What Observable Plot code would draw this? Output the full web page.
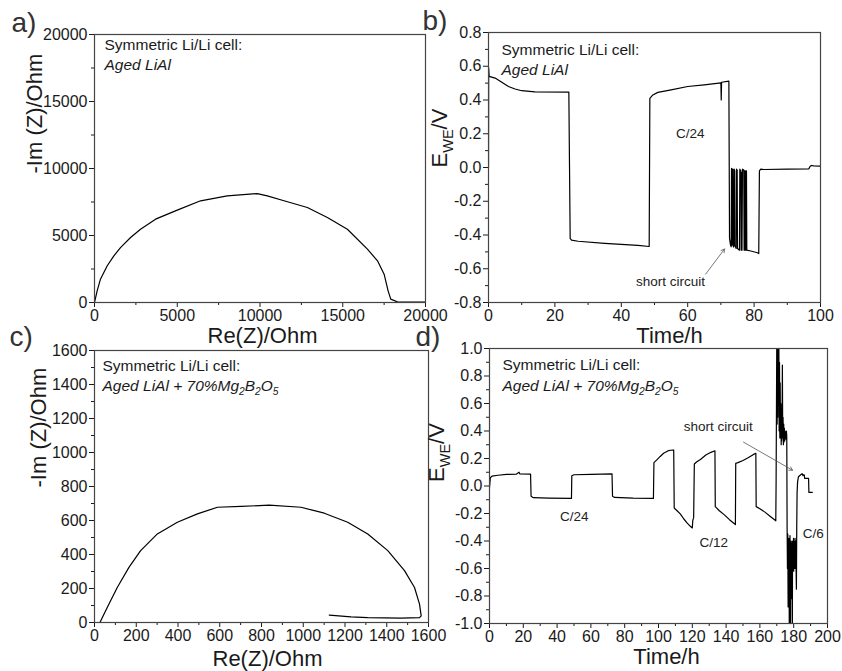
<!DOCTYPE html>
<html><head><meta charset="utf-8">
<script src="https://cdn.jsdelivr.net/npm/d3@7"></script>
<script src="https://cdn.jsdelivr.net/npm/@observablehq/plot@0.6"></script>
<style>
body{margin:0;background:#fff}
#wrap{position:relative;width:842px;height:671px;font-family:"Liberation Sans",Arial,sans-serif}
#wrap svg{position:absolute;left:0;top:0}
</style></head><body><div id="wrap"></div>
<script>
// ---------- data ----------
// a) Nyquist, aged LiAl  [Re(Z), -Im(Z)]
const nyquistA = [[0,0],[160,870],[360,1740],[770,2740],[1170,3480],[1570,4100],[2180,4850],[2780,5470],[3690,6220],[5000,6890],[6410,7590],[8020,7960],[9840,8130],[10440,7960],[11450,7590],[12860,7090],[14070,6340],[15280,5470],[16490,3980],[17100,3110],[17500,2110],[17740,870],[17900,250],[18300,50],[19000,30],[20000,30]];
// c) Nyquist, aged LiAl + 70% Mg2B2O5
const nyquistC = [[26,0],[61,88],[109,206],[165,324],[221,423],[301,521],[397,590],[493,639],[589,678],[701,683],[837,690],[989,678],[1101,643],[1213,590],[1309,521],[1405,423],[1485,305],[1533,206],[1557,108],[1565,39],[1557,29],[1469,26],[1309,29],[1229,33],[1125,43]];
// b) cycling, aged LiAl [time h, E V]
const cycleB = [[0,0.0],[0.05,0.59],[0.2,0.54],[2,0.53],[4,0.505],[6,0.48],[8,0.465],[10,0.455],[14,0.448],[24.2,0.447],
[24.4,0.01],[24.6,-0.42],[25,-0.43],[27,-0.437],[35,-0.45],[45,-0.462],[48.4,-0.468],
[48.6,0.41],[49.5,0.43],[51,0.445],[55,0.46],[60,0.48],[65,0.49],[70,0.502],[70.1,0.4],[70.2,0.505],[72.4,0.512],
[72.6,-0.42],[72.9,-0.46],[73.1,-0.47],[73.2,-0.005],[73.35,-0.01],[73.4,-0.46],[73.5,-0.45],[73.6,-0.01],[73.75,-0.47],[73.9,-0.47],[74.0,-0.01],[74.15,-0.02],[74.2,-0.46],[74.4,-0.47],[74.6,-0.48],[74.7,-0.01],[74.9,-0.015],[75.0,-0.48],[75.6,-0.49],[75.7,-0.01],[76.0,-0.02],[76.1,-0.49],[76.25,-0.03],[76.35,-0.49],[76.5,-0.01],[76.9,-0.015],[77.0,-0.49],[77.1,-0.02],[77.2,-0.49],[77.3,-0.02],[77.5,-0.49],[77.6,-0.02],[77.7,-0.02],[77.8,-0.49],[79,-0.495],[81,-0.505],[81.4,-0.51],
[81.6,-0.02],[82,-0.01],[83,-0.012],[90,-0.01],[96.5,-0.008],[96.8,0.005],[97.2,0.012],[98,0.01],[100,0.008]];
// d) cycling, aged LiAl + 70% Mg2B2O5
const cycleD = [[0,-0.01],[0.5,0.06],[1.5,0.072],[5,0.078],[10,0.084],[16,0.087],[17.5,0.1],[18,0.088],[24.3,0.086],
[24.6,-0.075],[26,-0.085],[35,-0.088],[48.5,-0.09],
[48.7,0.075],[50,0.082],[60,0.084],[72.5,0.088],
[72.8,-0.075],[74,-0.083],[85,-0.088],[97,-0.09],
[97.3,0.17],[99,0.19],[101,0.215],[103,0.238],[105.5,0.255],[107,0.26],[109,0.262],
[109.3,-0.16],[111,-0.18],[113,-0.205],[115,-0.24],[117,-0.27],[119,-0.295],[120,-0.305],[120.3,-0.25],[120.8,-0.23],[121.2,0.16],[122.5,0.175],[125,0.195],[128,0.225],[131,0.245],[133.4,0.256],
[133.6,-0.15],[136,-0.18],[139,-0.21],[142,-0.245],[144,-0.265],[145.5,-0.28],
[145.7,0.165],[147,0.17],[150,0.185],[153,0.205],[156,0.228],[157.6,0.238],
[157.8,-0.15],[160,-0.165],[163,-0.19],[166,-0.22],[169.4,-0.253],
[169.6,0.05],[170.0,1.1],[170.2,0.45],[170.4,1.1],[170.6,0.5],[170.8,1.1],[171.0,0.6],[171.2,1.1],[171.4,0.4],[171.6,0.9],[171.8,0.35],[172.0,0.75],[172.2,0.35],[172.4,0.6],[172.6,0.3],[172.8,0.5],[172.9,0.33],[173.1,0.45],[173.3,0.88],[173.5,0.35],[173.7,0.5],[173.9,0.3],[174.1,0.45],[174.3,0.32],[174.5,0.42],[174.7,0.33],[174.9,0.4],[175.1,0.35],[175.3,0.38],[175.5,0.34],[175.7,0.4],[175.9,0.36],
[176.1,-0.3],[176.3,-0.6],[176.5,-0.35],[176.7,-0.88],[176.9,-0.4],[177.0,-0.55],[177.1,-0.65],[177.2,-0.38],[177.4,-1.1],[177.5,-0.45],[177.7,-0.6],[177.8,-0.36],[177.9,-0.55],[178.1,-1.1],[178.2,-0.4],[178.3,-0.5],[178.5,-0.82],[178.6,-0.42],[178.7,-0.55],[178.9,-0.62],[179.0,-0.4],[179.2,-1.1],[179.3,-0.48],[179.4,-0.6],[179.6,-0.4],[179.7,-0.55],[179.9,-0.38],[180.0,-0.62],[180.2,-0.42],[180.3,-0.55],[180.5,-0.4],[180.7,-0.6],[180.8,-0.38],[181.0,-0.55],[181.2,-0.4],[181.4,-0.6],[181.6,-0.75],[181.8,-0.3],
[182.0,-0.05],[182.3,0.03],[182.8,0.067],[183.5,0.075],[184.5,0.085],[185,0.09],[185.5,0.075],[185.9,0.082],[186.3,0.08],[186.5,0.055],[188.8,0.055],[189,-0.047],[191,-0.047]];

// ticks
const ticksA = [0,5000,10000,15000,20000], minorA = [2500,7500,12500,17500];
const ticksBx = [0,20,40,60,80,100], minorBx = [10,30,50,70,90];
const ticksBy = [-0.8,-0.6,-0.4,-0.2,0,0.2,0.4,0.6,0.8], minorBy = [-0.7,-0.5,-0.3,-0.1,0.1,0.3,0.5,0.7];
const ticksC = [0,200,400,600,800,1000,1200,1400,1600], minorC = [100,300,500,700,900,1100,1300,1500];
const ticksDx = [0,20,40,60,80,100,120,140,160,180,200], minorDx = [10,30,50,70,90,110,130,150,170,190];
const ticksDy = [-1,-0.8,-0.6,-0.4,-0.2,0,0.2,0.4,0.6,0.8,1], minorDy = [-0.9,-0.7,-0.5,-0.3,-0.1,0.1,0.3,0.5,0.7,0.9];

// annotations
const notesB = [{t:60.8, v:0.2, s:"C/24"},{t:54.8, v:-0.679, s:"short circuit"}];
const arrowsB = [{t1:65.4, v1:-0.632, t2:71.1, v2:-0.483}];
const notesD = [{t:50.1, v:-0.225, s:"C/24"},{t:132.7, v:-0.41, s:"C/12"},{t:191.5, v:-0.35, s:"C/6"},{t:135.3, v:0.43, s:"short circuit"}];
const arrowsD = [{t1:150.3, v1:0.319, t2:179.3, v2:0.115}];

const line1 = "Symmetric Li/Li cell:";
const line2A = "Aged LiAl";
const line2C = "Aged LiAl + 70%Mg_{2}B_{2}O_{5}";

// ---------- drawing ----------
const W = 842, H = 671;
const FONT = "Liberation Sans, Arial, sans-serif";
const intFmt = d => String(d);
const decFmt = d => d.toFixed(1);

function panel(p) {
  const [L, R, T, B] = p.frame;
  const txt = (s, o) => Plot.text([s], {text: d => d, ...o});
  return Plot.plot({
    width: W, height: H,
    marginLeft: L, marginRight: W - R, marginTop: T, marginBottom: H - B,
    style: {background: "transparent", overflow: "visible", fontFamily: FONT, color: "#1a1a1a"},
    x: {domain: p.xd}, y: {domain: p.yd},
    marks: [
      Plot.axisX({ticks: p.xt, tickSize: 5, tickPadding: 2, fontSize: 16, tickFormat: p.xf, label: null, anchor: "bottom"}),
      Plot.axisX({ticks: p.xm, tickSize: 3, tickFormat: () => "", label: null, anchor: "bottom"}),
      Plot.axisY({ticks: p.yt, tickSize: 5, tickPadding: 2, fontSize: 16, tickFormat: p.yf, label: null, anchor: "left"}),
      Plot.axisY({ticks: p.ym, tickSize: 3, tickFormat: () => "", label: null, anchor: "left"}),
      Plot.line(p.data, {x: d => d[0], y: d => d[1], stroke: "#000", strokeWidth: 1.2, clip: true}),
      ...(p.notes ? [Plot.text(p.notes, {x: "t", y: "v", text: "s", fontSize: 13.5, fill: "#222"})] : []),
      ...(p.arrows ? [Plot.arrow(p.arrows, {x1: "t1", y1: "v1", x2: "t2", y2: "v2", stroke: "#555", strokeWidth: 0.8, headLength: 7})] : []),
      Plot.frame({stroke: "#444", strokeWidth: 1.2}),
      txt(line1, {frameAnchor: "top-left", lineAnchor: "top", textAnchor: "start", dx: p.t1[0], dy: p.t1[1], fontSize: 15.5}),
      txt(p.line2, {frameAnchor: "top-left", lineAnchor: "top", textAnchor: "start", dx: p.t2[0], dy: p.t2[1], fontSize: 15.5, fontStyle: "italic"}),
      txt(p.xl, {frameAnchor: "bottom", lineAnchor: "top", dx: p.xlo[0], dy: p.xlo[1], fontSize: 22}),
      txt(p.yl, {frameAnchor: "left", lineAnchor: "middle", rotate: -90, dx: p.ylo[0], dy: p.ylo[1], fontSize: 22}),
      txt(p.tag, {frameAnchor: "top-left", lineAnchor: "top", textAnchor: "start", dx: p.tago[0], dy: p.tago[1], fontSize: 28, fill: "#333"})
    ]
  });
}

const panels = [
  {frame: [94, 425, 34, 302], xd: [0, 20000], yd: [0, 20000], xt: ticksA, xm: minorA, yt: ticksA, ym: minorA, xf: intFmt, yf: intFmt,
   data: nyquistA, line2: line2A, t1: [10, 4], t2: [10, 24.5], xl: "Re(Z)/Ohm", xlo: [2.5, 25], yl: "-Im (Z)/Ohm", ylo: [-60, 5], tag: "a)", tago: [-83, -22]},
  {frame: [488, 820, 32, 302], xd: [0, 100], yd: [-0.8, 0.8], xt: ticksBx, xm: minorBx, yt: ticksBy, ym: minorBy, xf: intFmt, yf: decFmt,
   data: cycleB, notes: notesB, arrows: arrowsB, line2: line2A, t1: [13, 11], t2: [13, 31], xl: "Time/h", xlo: [15, 25], yl: "E_{WE}/V", ylo: [-49, 0], tag: "b)", tago: [-66, -22]},
  {frame: [94, 428, 350, 622], xd: [0, 1600], yd: [0, 1600], xt: ticksC, xm: minorC, yt: ticksC, ym: minorC, xf: intFmt, yf: intFmt,
   data: nyquistC, line2: line2C, t1: [8, 9], t2: [8, 29], xl: "Re(Z)/Ohm", xlo: [6, 28], yl: "-Im (Z)/Ohm", ylo: [-56, 1], tag: "c)", tago: [-85, -24]},
  {frame: [489, 827, 348, 623], xd: [0, 200], yd: [-1, 1], xt: ticksDx, xm: minorDx, yt: ticksDy, ym: minorDy, xf: intFmt, yf: decFmt,
   data: cycleD, notes: notesD, arrows: arrowsD, line2: line2C, t1: [13, 10], t2: [13, 31], xl: "Time/h", xlo: [8, 25], yl: "E_{WE}/V", ylo: [-53, -4], tag: "d)", tago: [-74, -22]}
];

const wrap = document.getElementById("wrap");
for (const p of panels) wrap.appendChild(panel(p));

// subscripts: "_{..}" -> lowered smaller tspan
d3.select(wrap).selectAll("text").each(function() {
  const t = this.textContent;
  if (!t.includes("_{")) return;
  const fs = parseFloat(getComputedStyle(this).fontSize) || 15;
  const parts = t.split(/(_\{[^}]*\})/).filter(s => s.length);
  this.textContent = "";
  const sel = d3.select(this);
  let lowered = false;
  for (const s of parts) {
    const span = sel.append("tspan");
    if (s.startsWith("_{")) {
      span.text(s.slice(2, -1)).attr("font-size", fs * 0.66).attr("dy", lowered ? null : fs * 0.3);
      lowered = true;
    } else {
      span.text(s);
      if (lowered) { span.attr("dy", -fs * 0.3); lowered = false; }
    }
  }
});
</script>
</body></html>
